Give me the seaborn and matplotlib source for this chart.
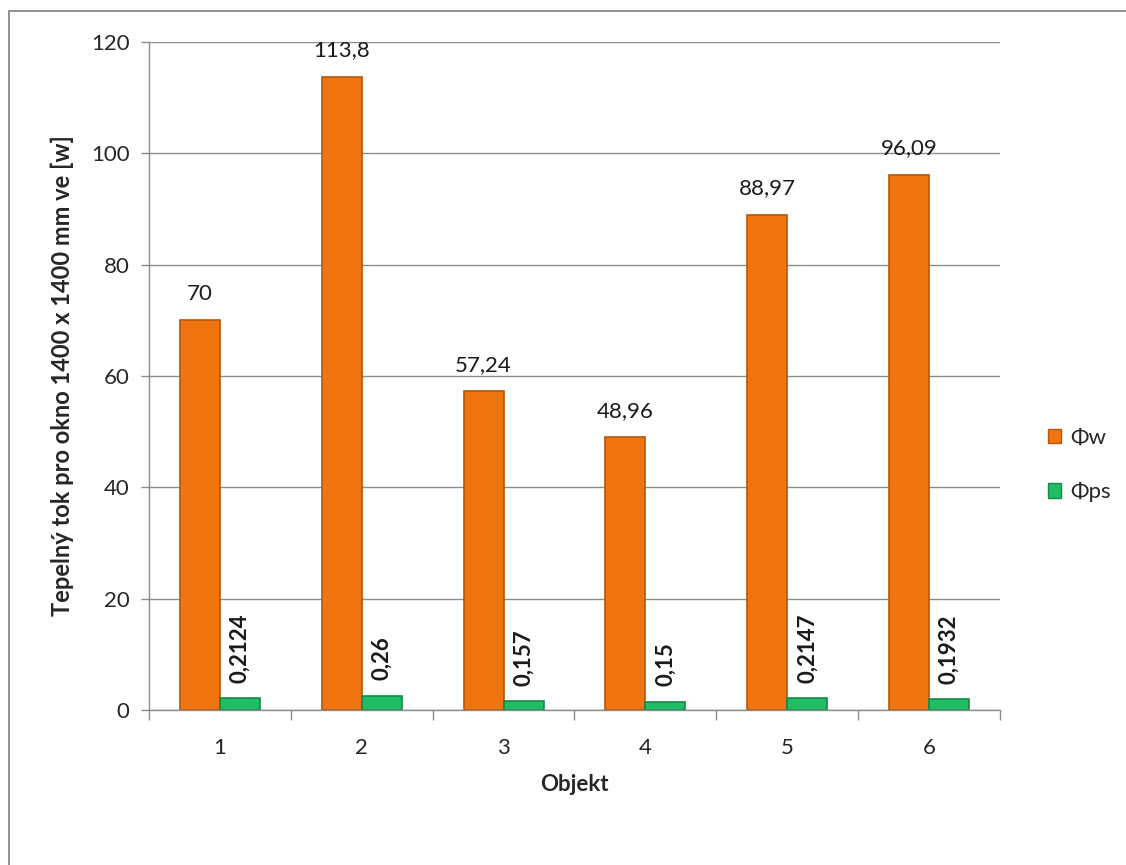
import matplotlib
matplotlib.use("Agg")
import matplotlib.pyplot as plt
import seaborn as sns
import pandas as pd
from matplotlib.patches import Patch, Rectangle

categories = ["1", "2", "3", "4", "5", "6"]
phi_w = [70, 113.8, 57.24, 48.96, 88.97, 96.09]
phi_w_labels = ["70", "113,8", "57,24", "48,96", "88,97", "96,09"]
phi_ps_labels = ["0,2124", "0,26", "0,157", "0,15", "0,2147", "0,1932"]
# drawn heights of the green bars
phi_ps_drawn = [2.1, 2.6, 1.6, 1.5, 2.1, 1.9]
series = ["Φw", "Φps"]
y_ticks = [0, 20, 40, 60, 80, 100, 120]

orange = "#F07410"
green = "#20BE64"

sns.set_theme(style="white")
plt.rcParams["font.family"] = ["Lato", "DejaVu Sans"]

df = pd.DataFrame({
    "Objekt": categories * 2,
    "value": phi_w + phi_ps_drawn,
    "series": [series[0]] * 6 + [series[1]] * 6,
})

fig = plt.figure(figsize=(11.26, 8.65), dpi=100)
ax = fig.add_axes([149 / 1126, 1 - 710 / 865, (1000 - 149) / 1126, (710 - 42) / 865])

sns.barplot(data=df, x="Objekt", y="value", hue="series", hue_order=series,
            palette=[orange, green], width=0.565, dodge=True, ax=ax,
            legend=False, saturation=1, errorbar=None)

edge_cols = {0: "#B85608", 1: "#148A46"}
for i, cont in enumerate(ax.containers):
    for p in cont.patches:
        p.set_edgecolor(edge_cols[i])
        p.set_linewidth(1.2)

FS = 16
ax.set_ylim(0, 120)
ax.set_xlim(-0.5, 5.5)
ax.set_yticks(y_ticks)
ax.set_yticklabels([str(t) for t in y_ticks], fontsize=FS)
ax.yaxis.grid(True, color="#8C8C8C", linewidth=1)
ax.set_axisbelow(True)
for s in ["top", "right"]:
    ax.spines[s].set_visible(False)
for s in ["left", "bottom"]:
    ax.spines[s].set_color("#8C8C8C")
    ax.spines[s].set_linewidth(1)

ax.tick_params(axis="x", which="major", length=0, labelsize=FS, pad=20)
ax.set_xticks([i - 0.5 for i in range(7)], minor=True)
ax.tick_params(axis="x", which="minor", length=7, color="#8C8C8C", width=1, direction="out", bottom=True)
ax.tick_params(axis="y", length=6, color="#8C8C8C", width=1, direction="out", left=True, pad=8)

ax.set_xlabel("Objekt", fontsize=FS, fontweight="bold", labelpad=12)
ax.set_ylabel("Tepelný tok pro okno 1400 x 1400 mm ve [w]", fontsize=17, fontweight="bold", labelpad=12)

# data labels
for p, lab in zip(ax.containers[0].patches, phi_w_labels):
    ax.annotate(lab, (p.get_x() + p.get_width() / 2, p.get_height()),
                xytext=(0, 12), textcoords="offset points",
                ha="center", va="bottom", fontsize=FS, color="#1a1a1a")
for p, lab in zip(ax.containers[1].patches, phi_ps_labels):
    ax.annotate(lab, (p.get_x() + p.get_width() / 2, p.get_height()),
                xytext=(0, 11), textcoords="offset points",
                ha="center", va="bottom", rotation=90, fontsize=FS,
                fontweight="bold", color="#1a1a1a")

handles = [Patch(facecolor=orange, edgecolor=edge_cols[0]),
           Patch(facecolor=green, edgecolor=edge_cols[1])]
fig.legend(handles, series, loc="center left", bbox_to_anchor=(1028 / 1126, 1 - 465 / 865),
           frameon=False, fontsize=FS, handlelength=0.6, handleheight=0.6,
           labelspacing=1.55, handletextpad=0.4)

# outer chart frame (only top/left visible)
fig.patches.append(Rectangle((9 / 1126, -0.01), 1.05, 1 - 11 / 865 + 0.01,
                             transform=fig.transFigure, fill=False,
                             edgecolor="#7F7F7F", linewidth=1.2))

fig.savefig("out.png", dpi=100)
